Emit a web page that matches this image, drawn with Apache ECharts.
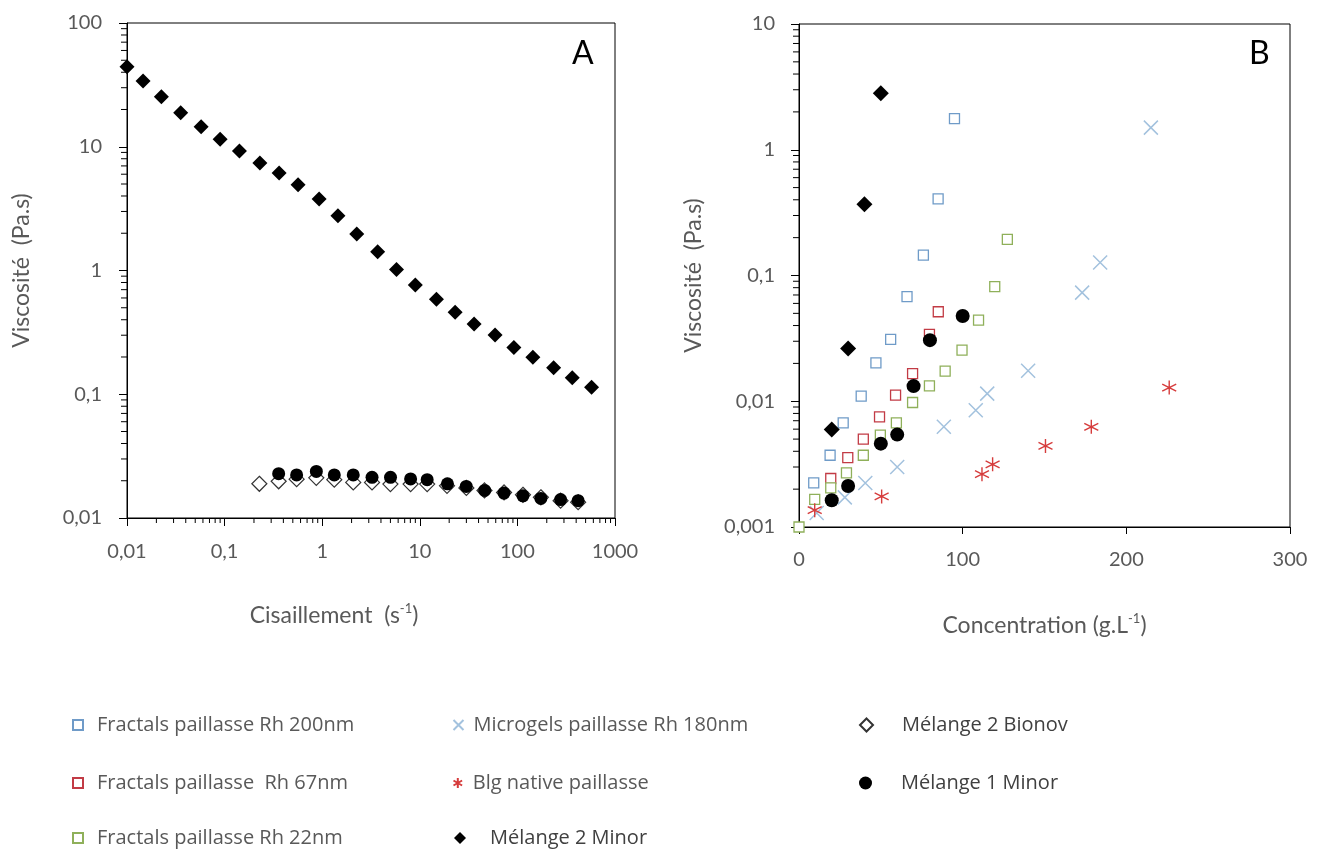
<!DOCTYPE html>
<html>
<head>
<meta charset="utf-8">
<script src="https://cdn.jsdelivr.net/npm/echarts@6/dist/echarts.min.js"></script>
<style>
html,body{margin:0;padding:0;background:#fff;}
#chart{width:1328px;height:850px;}
</style>
</head>
<body>
<div id="chart"></div>
<script>
// ---------- Data: panel A (viscosity vs shear rate) ----------
const shearA_M2Minor = [0.01,0.0146,0.0225,0.0355,0.0575,0.09,0.142,0.23,0.362,0.566,0.93,1.45,2.26,3.7,5.77,9.0,14.8,23,36,59,92,144,235,365,575];
const viscA_M2Minor  = [44.4,34,25.3,18.8,14.5,11.5,9.24,7.4,6.14,4.94,3.79,2.77,1.97,1.42,1.02,0.764,0.585,0.46,0.37,0.301,0.239,0.199,0.164,0.136,0.114];
const shearA_M2Bionov = [0.227,0.358,0.547,0.87,1.33,2.08,3.24,5.0,8.05,11.9,19,30,46,73,114,174,277,419];
const viscA_M2Bionov  = [0.0189,0.0198,0.0206,0.0211,0.0204,0.0194,0.0194,0.0188,0.0188,0.0188,0.0182,0.0175,0.0167,0.0161,0.0154,0.0147,0.0138,0.0134];
const shearA_M1Minor = [0.358,0.547,0.871,1.33,2.08,3.24,5.01,8.05,11.9,19.2,29.9,46.2,72.9,114,174,277,419];
const viscA_M1Minor  = [0.0228,0.0223,0.0238,0.0223,0.0223,0.0213,0.0213,0.0207,0.0204,0.0189,0.018,0.0167,0.0159,0.0151,0.0144,0.0141,0.0138];

// ---------- Data: panel B (viscosity vs concentration) ----------
const concB_F200 = [9,19,27,38,47,56,66,76,85,95];
const viscB_F200 = [0.00224,0.00372,0.00673,0.011,0.0202,0.031,0.0679,0.145,0.407,1.77];
const concB_F67 = [19.4,29.8,39.3,49.2,59,69.4,79.7,85.1];
const viscB_F67 = [0.00243,0.00356,0.00499,0.00752,0.0112,0.0166,0.034,0.0515];
const concB_F22 = [0,9.6,19.4,29,39.3,49.7,59.5,69.4,79.7,89.3,99.6,109.7,119.6,127.3];
const viscB_F22 = [0.001,0.00166,0.00205,0.00269,0.00372,0.00537,0.00673,0.00977,0.01327,0.01735,0.0255,0.0442,0.0815,0.194];
const concB_Micro = [10.8,28,40.5,60,88.5,108,115,140,173,184,215];
const viscB_Micro = [0.00129,0.00172,0.00224,0.0030,0.00626,0.00849,0.0115,0.0175,0.0731,0.127,1.50];
const concB_Blg = [9.6,50.5,111.8,118.3,150.6,178.6,226.2];
const viscB_Blg = [0.00136,0.00175,0.00263,0.00315,0.00441,0.00626,0.01286];
const concB_M1Minor = [20,30,50,60,70,80,100];
const viscB_M1Minor = [0.00163,0.00212,0.0046,0.00543,0.0132,0.0306,0.0476];
const concB_M2Minor = [20,30,40,50];
const viscB_M2Minor = [0.00596,0.0263,0.369,2.82];

// ---------- Axis tick definitions ----------
const decadesAx = [0.01,0.1,1,10,100];
const decadesAy = [0.01,0.1,1,10];
const decadesBy = [0.001,0.01,0.1,1];
const minorMult = [2,3,4,5,6,7,8,9];

const names = {
  f200: 'Fractals paillasse Rh 200nm',
  f67: 'Fractals paillasse  Rh 67nm',
  f22: 'Fractals paillasse Rh 22nm',
  micro: 'Microgels paillasse Rh 180nm',
  blg: 'Blg native paillasse',
  m2minor: 'Mélange 2 Minor',
  m2bionov: 'Mélange 2 Bionov',
  m1minor: 'Mélange 1 Minor'
};

const colF200 = '#6f9bc8', colF67 = '#c23b45', colF22 = '#8fb05a', colMicro = '#a3c2de', colBlg = '#d63c3c';
const grayTxt = '#595959';
const pathX = 'path://M0,0L10,10M10,0L0,10';
const pathStar = 'path://M5,0L5,10M0.7,2.5L9.3,7.5M0.7,7.5L9.3,2.5';

function zip(a,b){ return a.map((v,i)=>[v,b[i]]); }
function minorTicks(decs){ const out=[]; decs.forEach(d=>minorMult.forEach(m=>out.push(+(d*m).toPrecision(3)))); return out; }
function fmt(v){ return String(Number(Number(v).toPrecision(6))).replace('.', ','); }

const chart = echarts.init(document.getElementById('chart'), null, {renderer:'canvas'});

const axisLineStyle = {show:true, lineStyle:{color:'#000', width:1}};
const labelStyle = {color: grayTxt, fontSize: 20, fontFamily: 'Lato'};
const nameStyle = {color: grayTxt, fontSize: 23, fontFamily: 'Lato',
  rich: {sup: {fontSize: 13, fontFamily: 'Lato', color: grayTxt, padding: [0,0,14,0]}}};

function tickSeries(values, xi, yi, mode, fixed){
  return {
    type: 'custom', xAxisIndex: xi, yAxisIndex: yi, silent: true, clip: false, z: 5,
    data: values.map(v => mode === 'x' ? [v, fixed] : [fixed, v]),
    renderItem: function(params, api){
      const p = api.coord([api.value(0), api.value(1)]);
      if (mode === 'x') {
        return {type:'line', shape:{x1:p[0], y1:p[1], x2:p[0], y2:p[1]+5}, style:{stroke:'#000', lineWidth:1}};
      }
      return {type:'line', shape:{x1:p[0]-6, y1:p[1], x2:p[0], y2:p[1]}, style:{stroke:'#000', lineWidth:1}};
    }
  };
}

// one legend component per entry, placed in the 3x3 layout of the reference
const legTxtSmall = {color: grayTxt, fontSize: 20, fontFamily: 'Open Sans'};
const legTxtBig = {color: '#404040', fontSize: 20, fontFamily: 'Open Sans'};
function leg(name, left, cy, size, txt, pad){
  return {left: left, top: cy - 12, itemWidth: size, itemHeight: size, selectedMode: false,
          textStyle: Object.assign({padding: [0,0,0,pad]}, txt), data: [name]};
}

const option = {
  backgroundColor: '#fff',
  animation: false,
  grid: [
    {left: 127, top: 23, right: 713, bottom: 332, show: true, borderColor: '#000', borderWidth: 1, backgroundColor: 'transparent'},
    {left: 799, top: 24, right: 38, bottom: 323, show: true, borderColor: '#000', borderWidth: 1, backgroundColor: 'transparent'}
  ],
  xAxis: [
    {type:'log', logBase:10, gridIndex:0, min:0.01, max:1000,
     axisLine: axisLineStyle, axisTick:{show:true, inside:false, length:8, lineStyle:{color:'#000'}},
     splitLine:{show:false}, axisLabel: Object.assign({margin: 24, formatter: fmt}, labelStyle),
     name: 'Cisaillement  (s{sup|-1})', nameLocation:'middle', nameGap: 84,
     nameTextStyle: Object.assign({padding:[0,74,0,0]}, nameStyle)},
    {type:'value', gridIndex:1, min:0, max:300, interval:100,
     axisLine: axisLineStyle, axisTick:{show:true, inside:false, length:7, lineStyle:{color:'#000'}},
     splitLine:{show:false}, axisLabel: Object.assign({margin: 23, formatter: fmt}, labelStyle),
     name: 'Concentration (g.L{sup|-1})', nameLocation:'middle', nameGap: 85, nameTextStyle: nameStyle}
  ],
  yAxis: [
    {type:'log', logBase:10, gridIndex:0, min:0.01, max:100,
     axisLine: axisLineStyle, axisTick:{show:true, inside:false, length:8, lineStyle:{color:'#000'}},
     splitLine:{show:false}, axisLabel: Object.assign({margin: 25, formatter: fmt}, labelStyle),
     name: 'Viscosité  (Pa.s)', nameLocation:'middle', nameGap: 94, nameRotate: 90, nameTextStyle: nameStyle},
    {type:'log', logBase:10, gridIndex:1, min:0.001, max:10,
     axisLine: axisLineStyle, axisTick:{show:true, inside:false, length:8, lineStyle:{color:'#000'}},
     splitLine:{show:false}, axisLabel: Object.assign({margin: 24, formatter: fmt}, labelStyle),
     name: 'Viscosité  (Pa.s)', nameLocation:'middle', nameGap: 94, nameRotate: 90, nameTextStyle: nameStyle}
  ],
  legend: [
    leg(names.f200, 67, 722, 10, legTxtSmall, 9),
    leg(names.f67, 67, 780, 10, legTxtSmall, 9),
    leg(names.f22, 67, 835, 10, legTxtSmall, 9),
    leg(names.micro, 446, 722, 10, legTxtSmall, 5),
    leg(names.blg, 446, 780, 10, legTxtSmall, 5),
    leg(names.m2minor, 449, 835, 12, legTxtBig, 19),
    leg(names.m2bionov, 854, 722, 13, legTxtBig, 24),
    leg(names.m1minor, 854, 780, 13, legTxtBig, 24)
  ],
  graphic: [
    {type:'text', left: 572, top: 38, style:{text:'A', fontSize: 32, fontFamily:'Lato', fill:'#000'}},
    {type:'text', left: 1249, top: 38, style:{text:'B', fontSize: 32, fontFamily:'Lato', fill:'#000'}}
  ],
  series: [
    // minor ticks
    tickSeries(minorTicks(decadesAx), 0, 0, 'x', 0.01),
    tickSeries(minorTicks(decadesAy), 0, 0, 'y', 0.01),
    tickSeries(minorTicks(decadesBy), 1, 1, 'y', 0),
    // panel B series
    {name: names.f200, type:'scatter', xAxisIndex:1, yAxisIndex:1, symbol:'rect', symbolSize:10,
     itemStyle:{color:'#fff', borderColor: colF200, borderWidth: 1.3, opacity: 1}, data: zip(concB_F200, viscB_F200)},
    {name: names.f67, type:'scatter', xAxisIndex:1, yAxisIndex:1, symbol:'rect', symbolSize:10,
     itemStyle:{color:'#fff', borderColor: colF67, borderWidth: 1.3, opacity: 1}, data: zip(concB_F67, viscB_F67)},
    {name: names.f22, type:'scatter', xAxisIndex:1, yAxisIndex:1, symbol:'rect', symbolSize:10,
     itemStyle:{color:'#fff', borderColor: colF22, borderWidth: 1.3, opacity: 1}, data: zip(concB_F22, viscB_F22)},
    {name: names.micro, type:'scatter', xAxisIndex:1, yAxisIndex:1, symbol: pathX, symbolSize:14,
     itemStyle:{color:'none', borderColor: colMicro, borderWidth: 1.5, opacity: 1}, data: zip(concB_Micro, viscB_Micro)},
    {name: names.blg, type:'scatter', xAxisIndex:1, yAxisIndex:1, symbol: pathStar, symbolSize:14,
     itemStyle:{color:'none', borderColor: colBlg, borderWidth: 1.4, opacity: 1}, data: zip(concB_Blg, viscB_Blg)},
    // panel A series
    {name: names.m2bionov, type:'scatter', xAxisIndex:0, yAxisIndex:0, symbol:'diamond', symbolSize:15,
     itemStyle:{color:'#fff', borderColor:'#333', borderWidth: 1.2, opacity: 1}, data: zip(shearA_M2Bionov, viscA_M2Bionov)},
    {name: names.m1minor, type:'scatter', xAxisIndex:0, yAxisIndex:0, symbol:'circle', symbolSize:13,
     itemStyle:{color:'#000', opacity: 1}, data: zip(shearA_M1Minor, viscA_M1Minor)},
    {name: names.m2minor, type:'scatter', xAxisIndex:0, yAxisIndex:0, symbol:'diamond', symbolSize:15,
     itemStyle:{color:'#000', opacity: 1}, data: zip(shearA_M2Minor, viscA_M2Minor)},
    {name: names.m1minor, type:'scatter', xAxisIndex:1, yAxisIndex:1, symbol:'circle', symbolSize:14,
     itemStyle:{color:'#000', opacity: 1}, data: zip(concB_M1Minor, viscB_M1Minor)},
    {name: names.m2minor, type:'scatter', xAxisIndex:1, yAxisIndex:1, symbol:'diamond', symbolSize:16,
     itemStyle:{color:'#000', opacity: 1}, data: zip(concB_M2Minor, viscB_M2Minor)}
  ]
};
chart.setOption(option);
</script>
</body>
</html>
